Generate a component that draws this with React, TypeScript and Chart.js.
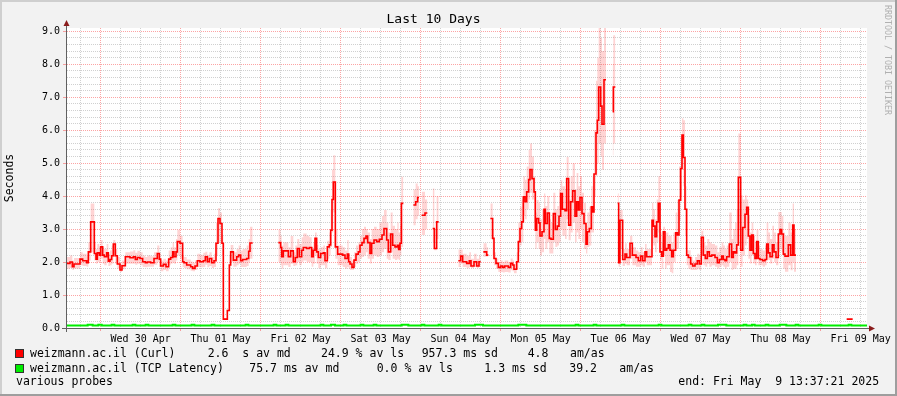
import React, { useEffect, useRef } from 'react';
import { Chart, registerables } from 'chart.js';

Chart.register(...registerables);

// ---- time axis: hours relative to Wed 30 Apr 00:00 ----
const X_MIN = -10.1;
const X_MAX = 229.9;

const dayLabels = [
  'Wed 30 Apr', 'Thu 01 May', 'Fri 02 May', 'Sat 03 May', 'Sun 04 May',
  'Mon 05 May', 'Tue 06 May', 'Wed 07 May', 'Thu 08 May', 'Fri 09 May',
];
const yTickLabels = ['0.0', '1.0', '2.0', '3.0', '4.0', '5.0', '6.0', '7.0', '8.0', '9.0'];

// ---- Curl median (seconds), step series; null = no data from that time on ----
const curlTimes = [
  -10.1, -9.2, -8.5, -8.0, -6.2, -5.4, -4.2, -3.7, -3.0, -1.9, -1.4, -1.0, -0.4, 0.0, 0.6, 1.1,
  1.8, 2.3, 2.8, 3.3, 3.8, 4.4, 5.0, 5.8, 6.4, 7.4, 8.8, 9.8, 10.4, 11.0, 11.8, 12.6, 13.4, 14.0,
  15.0, 16.0, 17.0, 17.6, 18.0, 18.8, 19.6, 20.4, 21.0, 21.6, 22.0, 22.6, 23.0, 23.8, 24.6, 25.0,
  25.8, 27.0, 27.6, 28.3, 29.0, 29.8, 30.8, 31.4, 32.0, 32.6, 33.3, 34.0, 34.6, 35.2, 35.8, 36.4,
  36.8, 38.0, 38.6, 39.0, 39.8, 40.8, 41.4, 42.0, 42.6, 43.8, 44.4, 44.8, 45.6,
  53.3, 54.0, 54.3, 54.8, 56.3, 57.0, 57.8, 58.4, 59.0, 59.6, 60.3, 60.8, 61.8, 62.6, 63.3, 63.8,
  64.3, 64.8, 65.3, 66.0, 66.8, 67.3, 68.0, 68.6, 69.0, 69.4, 69.8, 70.4, 71.1, 72.6, 73.3, 74.0,
  74.4, 74.8, 75.4, 76.0, 76.6, 77.3, 77.8, 78.4, 79.0, 79.6, 80.1, 80.8, 81.3, 82.0, 82.8, 83.6,
  84.4, 85.0, 85.8, 86.3, 87.0, 87.6, 88.3, 89.0, 89.4, 89.8, 90.2, 90.8,
  93.8, 94.5, 95.1, 95.5, 96.3, 97.3, 98.0, 99.6, 100.1, 100.8, 101.4,
  107.3, 108.0, 108.6, 109.8, 110.6, 111.1, 112.0, 112.8, 113.5, 114.0, 114.8, 115.8, 116.3,
  116.9, 117.6, 118.0, 118.6, 119.3, 120.0, 120.6, 121.2, 122.3, 123.0, 123.6, 124.0, 124.8, 125.3,
  125.8, 126.3, 126.8, 127.3, 127.8, 128.4, 128.8, 129.4, 130.0, 130.4, 130.8, 131.4, 131.8, 132.4,
  133.0, 133.4, 134.0, 134.6, 135.1, 135.8, 136.4, 137.0, 137.5, 138.0, 138.5, 139.3, 139.8, 140.4,
  141.0, 141.6, 142.3, 142.8, 143.3, 143.8, 144.4, 145.0, 145.6, 146.0, 146.6, 147.2, 147.6, 148.0,
  148.6, 149.0, 149.4, 150.0, 150.4, 151.0, 151.6, 153.6, 153.8, 154.4,
  155.1, 155.4, 155.8, 156.6, 157.3, 157.8, 158.8, 159.5, 160.6, 161.3, 162.0, 162.6, 163.3, 163.8,
  165.4, 165.8, 166.3, 166.8, 167.3, 167.8, 168.3, 168.8, 169.3, 169.8, 170.3, 170.8, 171.3, 171.8,
  172.5, 173.0, 173.5, 174.0, 174.4, 174.8, 175.3, 175.8, 176.3, 177.0, 177.6, 178.3, 179.0, 179.6,
  180.2, 180.8, 181.4, 182.0, 182.6, 183.3, 184.3, 185.0, 185.6, 186.3, 186.8, 187.3, 187.8, 188.6,
  189.3, 189.8, 190.3, 190.8, 191.3, 192.0, 192.6, 193.3, 193.8, 194.3, 194.8, 195.3, 195.8, 196.3,
  196.8, 197.3, 197.8, 198.6, 199.3, 199.8, 200.3, 200.8, 201.5, 202.0, 202.6, 203.3, 203.8, 204.3,
  204.8, 205.3, 206.3, 207.0, 207.6, 208.0, 208.6,
  223.8, 225.6,
];
const curlMedian = [
  1.96, 2.0, 1.86, 1.94, 2.09, 2.04, 1.98, 2.31, 3.22, 2.26, 2.09, 2.28, 2.21, 2.46, 2.21, 2.16,
  2.28, 2.03, 2.08, 2.19, 2.55, 2.19, 1.94, 1.76, 1.89, 2.16, 2.13, 2.16, 2.08, 2.14, 2.11, 2.01, 1.98, 2.0,
  1.98, 2.11, 2.26, 2.09, 1.88, 1.93, 1.86, 2.09, 2.14, 2.31, 2.16, 2.31, 2.62, 2.57, 2.01, 1.98,
  1.91, 1.86, 1.81, 1.88, 2.04, 2.01, 2.04, 2.16, 2.01, 2.11, 1.98, 2.04, 2.57, 3.32, 3.17, 2.57,
  0.27, 0.53, 1.91, 2.31, 2.06, 2.16, 2.21, 2.04, 2.08, 2.11, 2.33, 2.58, null,
  2.59, 2.44, 2.16, 2.34, 2.16, 2.34, 2.01, 2.14, 2.41, 2.16, 2.36, 2.44, 2.41, 2.44, 2.16, 2.36,
  2.72, 2.31, 2.14, 2.26, 2.28, 2.04, 2.46, 2.52, 2.97, 3.90, 4.43, 2.46, 2.24, 2.21, 2.11, 2.24,
  2.01, 1.94, 1.84, 2.06, 2.24, 2.31, 2.51, 2.59, 2.72, 2.79, 2.59, 2.26, 2.57, 2.67, 2.62, 2.69,
  2.82, 3.02, 2.67, 2.31, 2.85, 2.51, 2.46, 2.51, 2.38, 2.57, 3.78, null,
  3.73, 3.83, 3.96, null, 3.42, 3.49, null, 3.02, 2.41, 3.22, null,
  2.04, 2.18, 2.01, 1.96, 2.04, 1.88, 2.01, 1.88, 2.01, null, 2.31, 2.21, null,
  3.32, 2.72, 2.11, 1.96, 1.84, 1.88, 1.84, 1.88, 1.84, 1.96, 1.91, 1.78, 2.01, 2.62,
  3.02, 3.22, 3.98, 3.83, 4.13, 4.50, 4.81, 4.53, 4.13, 2.97, 3.32, 3.19, 2.79, 2.92,
  3.60, 3.17, 3.49, 2.72, 2.69, 3.47, 2.99, 3.09, 3.39, 4.08, 3.60, 3.56, 4.53, 3.12,
  3.83, 4.16, 3.39, 3.83, 3.58, 3.96, 3.47, 3.17, 2.54, 2.92, 3.02, 3.68, 3.52, 4.67,
  5.92, 6.30, 7.31, 6.73, 6.18, 7.53, null, 6.56, 7.31, null,
  3.78, 1.98, 3.27, 2.08, 2.24, 2.14, 2.57, 2.21, 2.14, 2.04, 2.18, 2.04, 2.31, 2.16,
  3.27, 3.09, 2.77, 3.22, 3.78, 2.31, 2.18, 2.92, 2.36, 2.41, 2.52, 2.36, 2.16, 2.36,
  2.89, 2.82, 3.88, 4.84, 5.85, 5.17, 3.60, 2.21, 2.14, 1.94, 1.88, 1.94, 2.04, 1.94,
  2.75, 2.21, 2.11, 2.31, 2.18, 2.21, 2.14, 1.98, 2.08, 2.18, 2.08, 2.04, 2.16, 2.55,
  2.14, 2.31, 2.28, 2.52, 4.57, 2.36, 3.05, 3.45, 3.66, 2.79, 2.36, 2.82, 2.26, 2.11,
  2.62, 2.11, 2.08, 2.04, 2.08, 2.55, 2.28, 2.16, 2.52, 2.31, 2.14, 2.85, 2.99, 2.85,
  2.24, 2.18, 2.52, 2.21, 3.12, 2.21, null,
  0.27, null,
];

// ---- Curl smoke (spread of the probes) per step: low / high bounds, same steps as curlTimes ----
const smokeLow = [
  1.80, 1.82, 1.76, 1.80, 1.90, 1.88, 1.86, 2.05, 2.30, 2.05, 1.95, 2.00, 2.00, 2.10, 1.95, 1.90,
  2.00, 1.88, 1.90, 1.95, 2.15, 1.95, 1.80, 1.70, 1.78, 1.95, 1.95, 1.95, 1.92, 1.95, 1.90, 1.85, 1.84, 1.86,
  1.86, 1.92, 2.00, 1.85, 1.72, 1.76, 1.72, 1.90, 1.95, 2.00, 1.95, 2.05, 2.20, 2.10, 1.85, 1.82,
  1.78, 1.74, 1.72, 1.76, 1.85, 1.84, 1.85, 1.92, 1.84, 1.88, 1.82, 1.85, 2.20, 2.60, 2.55, 2.20,
  0.25, 0.50, 1.80, 2.00, 1.86, 1.90, 1.95, 1.85, 1.85, 1.88, 2.00, 2.10, null,
  2.00, 1.90, 1.80, 1.90, 1.85, 1.95, 1.88, 1.90, 2.00, 1.90, 2.00, 2.05, 2.00, 2.00, 1.86, 1.95,
  2.20, 1.95, 1.81, 1.90, 1.90, 1.81, 2.10, 2.20, 2.46, 2.90, 3.50, 2.10, 1.90, 1.85, 1.80, 1.85,
  1.80, 1.76, 1.76, 1.85, 1.95, 2.00, 2.10, 2.15, 2.20, 2.30, 2.10, 1.96, 2.10, 2.20, 2.15, 2.20,
  2.30, 2.40, 2.10, 2.06, 2.30, 2.10, 2.06, 2.10, 2.06, 2.20, 2.46, null,
  3.12, 3.30, 3.40, null, 2.82, 3.00, null, 2.60, 2.36, 2.70, null,
  1.85, 1.95, 1.85, 1.81, 1.85, 1.81, 1.85, 1.81, 1.85, null, 2.16, 2.16, null,
  2.70, 2.20, 1.90, 1.80, 1.70, 1.70, 1.68, 1.70, 1.68, 1.75, 1.72, 1.66, 1.80, 2.30,
  2.50, 2.60, 3.40, 3.30, 3.60, 3.90, 4.10, 3.90, 3.20, 2.40, 2.60, 2.40, 2.20, 2.30,
  2.70, 2.40, 2.60, 2.26, 2.26, 2.60, 2.46, 2.50, 2.60, 3.00, 2.80, 2.70, 3.30, 2.66,
  2.90, 3.20, 2.60, 2.90, 2.70, 3.00, 2.60, 2.40, 2.26, 2.46, 2.50, 2.90, 2.90, 4.00,
  4.60, 5.00, 5.60, 5.20, 4.80, 5.60, null, 5.24, 5.60, null,
  2.80, 1.86, 2.40, 1.88, 1.95, 1.90, 2.10, 1.90, 1.86, 1.86, 1.90, 1.86, 2.00, 1.90,
  2.60, 2.50, 2.30, 2.60, 2.90, 2.06, 1.80, 2.20, 1.80, 1.90, 1.90, 1.70, 1.66, 2.00,
  2.40, 2.40, 3.27, 4.00, 4.80, 4.30, 2.80, 1.90, 1.80, 1.76, 1.76, 1.76, 1.80, 1.76,
  2.20, 1.90, 1.86, 1.95, 1.86, 1.90, 1.86, 1.80, 1.86, 1.90, 1.86, 1.80, 1.86, 2.00,
  1.76, 1.80, 1.80, 1.90, 3.00, 1.86, 2.20, 2.50, 2.70, 2.10, 1.96, 2.20, 1.96, 1.90,
  2.10, 1.90, 1.90, 1.86, 1.90, 2.10, 2.06, 1.96, 2.10, 2.00, 1.90, 2.30, 2.40, 2.30,
  1.80, 1.71, 1.90, 1.75, 2.00, 1.71, null,
  0.27, null,
];
const smokeHigh = [
  2.15, 2.20, 2.05, 2.12, 2.30, 2.25, 2.18, 2.60, 3.78, 2.62, 2.40, 2.55, 2.45, 2.67, 2.45, 2.40,
  2.55, 2.25, 2.35, 2.50, 2.67, 2.40, 2.15, 1.95, 2.05, 2.30, 2.32, 2.36, 2.28, 2.34, 2.30, 2.20, 2.15, 2.20,
  2.18, 2.30, 2.50, 2.25, 2.05, 2.10, 2.05, 2.35, 2.45, 2.60, 2.45, 2.70, 2.97, 2.80, 2.20, 2.15,
  2.08, 2.02, 1.98, 2.05, 2.25, 2.22, 2.28, 2.31, 2.22, 2.30, 2.15, 2.25, 3.20, 3.63, 3.50, 2.80,
  0.30, 0.56, 2.20, 2.52, 2.30, 2.40, 2.50, 2.35, 2.40, 2.50, 2.70, 3.07, null,
  2.97, 2.80, 2.50, 2.60, 2.45, 2.79, 2.30, 2.50, 2.70, 2.55, 2.75, 2.87, 2.80, 2.75, 2.45, 2.60,
  2.90, 2.52, 2.40, 2.45, 2.50, 2.30, 2.65, 2.90, 3.60, 4.80, 5.24, 3.00, 2.50, 2.45, 2.35, 2.67,
  2.25, 2.15, 2.05, 2.30, 2.50, 2.60, 2.80, 3.00, 3.07, 3.00, 2.90, 2.70, 3.00, 3.07, 3.00, 3.20,
  3.40, 3.58, 3.20, 2.90, 3.50, 3.10, 3.00, 3.20, 2.90, 3.10, 4.59, null,
  4.20, 4.38, 4.30, null, 4.13, 3.90, null, 4.23, 3.00, 4.00, null,
  2.38, 2.38, 2.25, 2.20, 2.30, 2.10, 2.25, 2.10, 2.20, null, 2.57, 2.45, null,
  3.78, 3.00, 2.30, 2.11, 2.00, 2.05, 2.00, 2.05, 2.00, 2.11, 2.05, 1.95, 2.30, 3.20,
  3.68, 3.90, 4.60, 4.50, 4.90, 5.40, 5.60, 5.20, 4.60, 3.50, 3.88, 3.80, 3.30, 3.60,
  4.08, 3.70, 4.00, 3.30, 3.20, 4.10, 3.60, 3.70, 4.20, 4.48, 4.30, 4.20, 5.19, 3.90,
  4.60, 4.99, 4.20, 4.70, 4.30, 4.60, 4.10, 3.80, 3.10, 3.50, 3.68, 4.30, 4.60, 6.00,
  7.50, 8.20, 9.10, 8.80, 8.40, 9.10, null, 8.00, 8.88, null,
  4.08, 2.80, 3.58, 2.40, 2.57, 2.40, 2.80, 2.45, 2.35, 2.30, 2.45, 2.30, 2.55, 2.40,
  3.80, 3.60, 3.30, 3.90, 4.60, 2.90, 2.60, 3.07, 2.90, 2.90, 2.80, 2.80, 2.60, 2.90,
  3.50, 3.88, 4.90, 5.80, 6.36, 6.30, 4.30, 2.36, 2.36, 2.15, 2.05, 2.15, 2.25, 2.20,
  2.95, 2.60, 2.50, 2.70, 2.60, 2.55, 2.50, 2.30, 2.45, 2.60, 2.50, 2.40, 2.50, 3.50,
  2.70, 3.00, 3.20, 3.60, 5.90, 4.03, 3.90, 4.03, 3.90, 3.40, 2.90, 3.20, 2.80, 2.60,
  2.97, 2.50, 2.40, 2.35, 2.50, 3.20, 2.90, 2.70, 3.10, 2.90, 2.60, 3.52, 3.52, 3.40,
  2.90, 2.80, 3.20, 2.90, 3.78, 3.00, null,
  0.27, null,
];

// ---- TCP latency median (seconds) ----
const tcpTimes = [
  -10.1, -3.9, -2.4, -0.7, 0.3, 3.3, 4.1, 9.6, 10.4, 13.5, 14.3, 21.6, 22.4, 27.3, 28.1, 33.3, 34.1,
  43.5, 44.3, 51.9, 52.7, 55.5, 56.3, 66.0, 66.8, 69.1, 70.3, 72.9, 73.7, 78.0, 78.8, 81.9, 82.7,
  90.3, 92.3, 96.3, 97.1, 101.4, 102.2, 112.3, 114.7, 125.3, 127.7, 142.5, 143.3, 147.9, 148.7,
  156.3, 157.1, 167.4, 168.2, 176.4, 177.2, 180.3, 181.1, 185.2, 187.7, 192.9, 193.7, 195.4, 196.2,
  199.5, 200.3, 203.7, 205.7, 208.5, 209.3, 215.4, 216.2, 224.4, 225.2, 229.9,
];
const tcpMedian = [
  0.075, 0.1, 0.075, 0.1, 0.075, 0.1, 0.075, 0.1, 0.075, 0.1, 0.075, 0.1, 0.075, 0.1, 0.075, 0.1, 0.075,
  0.1, 0.075, 0.1, 0.075, 0.1, 0.075, 0.1, 0.075, 0.1, 0.075, 0.1, 0.075, 0.1, 0.075, 0.1, 0.075,
  0.1, 0.075, 0.1, 0.075, 0.1, 0.075, 0.1, 0.075, 0.1, 0.075, 0.1, 0.075, 0.1, 0.075,
  0.1, 0.075, 0.1, 0.075, 0.1, 0.075, 0.1, 0.075, 0.1, 0.075, 0.1, 0.075, 0.1, 0.075,
  0.1, 0.075, 0.1, 0.075, 0.1, 0.075, 0.1, 0.075, 0.1, 0.075, 0.075,
];

// ---- legend text ----
const legendRows = [
  { color: '#ff0000', name: 'weizmann.ac.il (Curl)', stats: ['2.6  s av md', '24.9 % av ls', '957.3 ms sd', '4.8', 'am/as'], statX: [207.7, 321, 421.7, 527.7, 570] },
  { color: '#00ee00', name: 'weizmann.ac.il (TCP Latency)', stats: ['75.7 ms av md', '0.0 % av ls', '1.3 ms sd', '39.2', 'am/as'], statX: [249.3, 376.7, 484.3, 569.3, 619.3] },
];
const footLeft = 'various probes';
const footRight = 'end: Fri May  9 13:37:21 2025';
const watermark = 'RRDTOOL / TOBI OETIKER';

const MONO = "'DejaVu Sans Mono', monospace";
const MAJOR_GRID = 'rgba(250, 90, 90, 0.55)';
const MINOR_GRID = 'rgba(150, 150, 150, 0.45)';

function toSteps(times: number[], values: (number | null)[]) {
  const out: { x: number; y: number | null }[] = [];
  for (let i = 0; i < times.length; i++) {
    const v = values[i];
    if (v === null) {
      const prev = i > 0 ? values[i - 1] : null;
      if (prev !== null) out.push({ x: times[i], y: prev });
      out.push({ x: times[i], y: null });
    } else {
      out.push({ x: times[i], y: v });
    }
  }
  return out;
}

const framePlugin = {
  id: 'rrdFrame',
  beforeDraw(chart: any) {
    const { ctx, width, height, chartArea: a } = chart;
    ctx.save();
    ctx.fillStyle = '#f2f2f2';
    ctx.fillRect(0, 0, width, height);
    ctx.fillStyle = '#cfcfcf';
    ctx.fillRect(0, 0, width, 2);
    ctx.fillRect(0, 0, 2, height);
    ctx.fillStyle = '#9e9e9e';
    ctx.fillRect(0, height - 2, width, 2);
    ctx.fillRect(width - 2, 0, 2, height);
    ctx.fillStyle = '#ffffff';
    ctx.fillRect(a.left, a.top, a.right - a.left, a.bottom - a.top);
    ctx.restore();
  },
  afterDraw(chart: any) {
    const { ctx, chartArea: a } = chart;
    ctx.save();
    ctx.strokeStyle = '#606060';
    ctx.lineWidth = 1;
    const yx = a.left - 0.5;
    const xy = a.bottom + 0.5;
    ctx.beginPath();
    ctx.moveTo(yx, a.bottom + 4);
    ctx.lineTo(yx, a.top - 3);
    ctx.moveTo(a.left - 5, xy);
    ctx.lineTo(a.right + 3, xy);
    ctx.stroke();
    ctx.fillStyle = '#8a1c1c';
    ctx.beginPath();
    ctx.moveTo(yx, a.top - 8);
    ctx.lineTo(yx - 3, a.top - 2);
    ctx.lineTo(yx + 3, a.top - 2);
    ctx.closePath();
    ctx.fill();
    ctx.beginPath();
    ctx.moveTo(a.right + 8, xy);
    ctx.lineTo(a.right + 2, xy - 3);
    ctx.lineTo(a.right + 2, xy + 3);
    ctx.closePath();
    ctx.fill();
    ctx.restore();
  },
};

export default function App() {
  const canvasRef = useRef<HTMLCanvasElement | null>(null);

  useEffect(() => {
    document.body.style.margin = '0';
    const canvas = canvasRef.current;
    if (!canvas) return;

    const xTicks: number[] = [];
    for (let h = -6; h <= 228; h += 6) xTicks.push(h);
    const yTicks: number[] = [];
    for (let k = 0; k <= 45; k++) yTicks.push(k / 5);

    const isMajorX = (v: number) => Math.round(v) % 24 === 0;
    const isMajorY = (v: number) => Math.round(v * 5) % 5 === 0;

    const chart = new Chart(canvas, {
      type: 'line',
      data: {
        datasets: [
          {
            label: 'weizmann.ac.il (Curl)',
            data: toSteps(curlTimes, curlMedian),
            borderColor: '#ff0000',
            borderWidth: 1.6,
            stepped: true,
            pointRadius: 0,
            fill: false,
          },
          {
            label: 'weizmann.ac.il (TCP Latency)',
            data: toSteps(tcpTimes, tcpMedian),
            borderColor: '#00ee00',
            borderWidth: 2,
            stepped: true,
            pointRadius: 0,
            fill: false,
          },
          {
            label: 'smoke high',
            data: toSteps(curlTimes, smokeHigh),
            borderWidth: 0,
            borderColor: 'rgba(0,0,0,0)',
            stepped: true,
            pointRadius: 0,
            fill: false,
          },
          {
            label: 'smoke low',
            data: toSteps(curlTimes, smokeLow),
            borderWidth: 0,
            borderColor: 'rgba(0,0,0,0)',
            backgroundColor: 'rgba(255, 40, 40, 0.2)',
            stepped: true,
            pointRadius: 0,
            fill: '-1',
          },
        ],
      },
      options: {
        animation: false,
        responsive: false,
        devicePixelRatio: 1,
        layout: { padding: { left: 0, right: 30, top: 0, bottom: 48 } },
        plugins: {
          legend: { display: false },
          tooltip: { enabled: false },
          title: {
            display: true,
            text: 'Last 10 Days',
            color: '#000',
            font: { family: MONO, size: 13, weight: 'normal', lineHeight: 1.2 },
            padding: { top: 12, bottom: 0.4 },
          },
        },
        scales: {
          x: {
            type: 'linear',
            min: X_MIN,
            max: X_MAX,
            afterFit: (s: any) => { s.height = 20; },
            afterBuildTicks: (s: any) => { s.ticks = xTicks.map((value) => ({ value })); },
            ticks: {
              autoSkip: false,
              maxRotation: 0,
              padding: 2,
              color: '#000',
              font: { family: MONO, size: 10 },
              callback: (value: any) => {
                const v = Math.round(Number(value));
                return (v - 12) % 24 === 0 ? dayLabels[(v - 12) / 24] ?? '' : '';
              },
            },
            grid: {
              color: (c: any) => (c.tick && isMajorX(c.tick.value) ? MAJOR_GRID : MINOR_GRID),
              tickColor: (c: any) => (c.tick && isMajorX(c.tick.value) ? MAJOR_GRID : 'rgba(0,0,0,0)'),
              tickLength: 3,
              lineWidth: 1,
            },
            border: { display: false, dash: [1, 1] },
          },
          y: {
            type: 'linear',
            min: 0,
            max: 9.1,
            afterFit: (s: any) => { s.width = 67; },
            afterBuildTicks: (s: any) => { s.ticks = yTicks.map((value) => ({ value })); },
            ticks: {
              autoSkip: false,
              padding: 3,
              color: '#000',
              font: { family: MONO, size: 10 },
              callback: (value: any) => {
                const k = Math.round(Number(value) * 5);
                return k % 5 === 0 ? yTickLabels[k / 5] ?? '' : '';
              },
            },
            grid: {
              color: (c: any) => (c.tick && isMajorY(c.tick.value) ? MAJOR_GRID : MINOR_GRID),
              tickColor: (c: any) => (c.tick && isMajorY(c.tick.value) ? MAJOR_GRID : 'rgba(0,0,0,0)'),
              tickLength: 4,
              lineWidth: 1,
            },
            border: { display: false, dash: [1, 1] },
            title: {
              display: true,
              text: 'Seconds',
              color: '#000',
              font: { family: MONO, size: 11.5, lineHeight: 1.2 },
              padding: { top: 3.6, bottom: 0 },
            },
          },
        },
      },
      plugins: [framePlugin],
    } as any);

    return () => chart.destroy();
  }, []);

  const textStyle: React.CSSProperties = {
    position: 'absolute',
    fontFamily: MONO,
    fontSize: '11.5px',
    lineHeight: '14px',
    color: '#000',
    whiteSpace: 'pre',
  };
  const rowTops = [346.3, 360.7];

  return (
    <div style={{ position: 'relative', width: 897, height: 396, overflow: 'hidden' }}>
      <canvas ref={canvasRef} width={897} height={396} style={{ display: 'block', width: 897, height: 396 }} />
      {legendRows.map((row, r) => (
        <React.Fragment key={row.name}>
          <span
            style={{
              position: 'absolute',
              left: 15,
              top: rowTops[r] + 3,
              width: 7,
              height: 7,
              background: row.color,
              border: '1px solid #333',
            }}
          />
          <span style={{ ...textStyle, left: 30, top: rowTops[r] }}>{row.name}</span>
          {row.stats.map((s, i) => (
            <span key={i} style={{ ...textStyle, left: row.statX[i], top: rowTops[r] }}>{s}</span>
          ))}
        </React.Fragment>
      ))}
      <span style={{ ...textStyle, left: 16, top: 374 }}>{footLeft}</span>
      <span style={{ ...textStyle, left: 678.3, top: 374 }}>{footRight}</span>
      <span
        style={{
          position: 'absolute',
          left: 883,
          top: 5,
          writingMode: 'vertical-rl',
          fontFamily: MONO,
          fontSize: '8.3px',
          lineHeight: '10px',
          color: '#b0b0b0',
          whiteSpace: 'pre',
        }}
      >
        {watermark}
      </span>
    </div>
  );
}
